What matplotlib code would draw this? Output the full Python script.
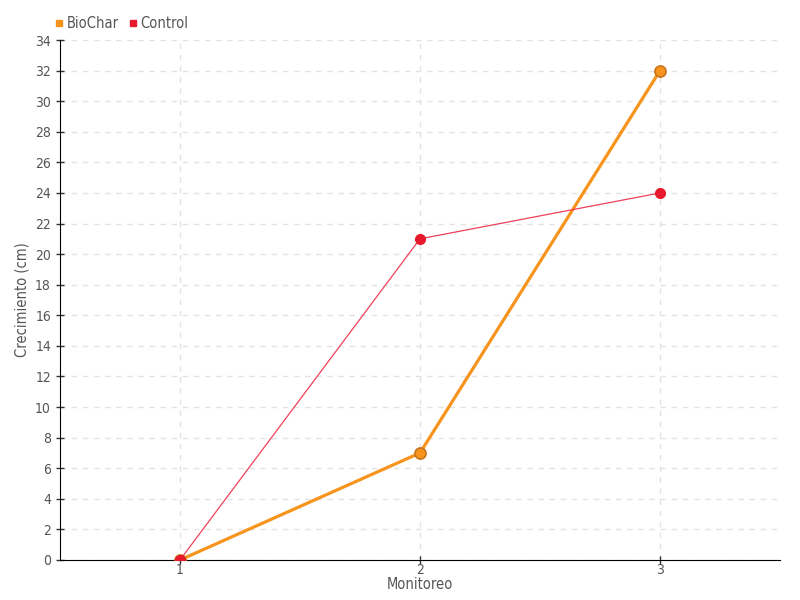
import matplotlib
matplotlib.use("Agg")
import matplotlib.pyplot as plt
from matplotlib.lines import Line2D

monitoreo = [1, 2, 3]
biochar = [0, 7, 32]
control = [0, 21, 24]
yticks = list(range(0, 35, 2))

plt.rcParams['font.family'] = ['DejaVu Sans']
plt.rcParams['font.stretch'] = 'condensed'
txt = '#555555'

fig = plt.figure(figsize=(8, 6), dpi=100)
ax = fig.add_axes([0.075, 0.0667, 0.9, 0.8666])

ax.plot(monitoreo, biochar, color='#f7941d', lw=2.3, marker='o', ms=8,
        markerfacecolor='#f7941d', markeredgecolor='#c8741a', markeredgewidth=1.2, zorder=3)
ax.plot(monitoreo, control, color='#f0405a', lw=0.9, marker='o', ms=7,
        markerfacecolor='#e8192c', markeredgecolor='#e8192c', zorder=4)

ax.set_xlim(0.5, 3.5)
ax.set_ylim(0, 34)
ax.set_xticks(monitoreo)
ax.set_yticks(yticks)
ax.grid(True, color='#e3e3e3', linestyle=(0, (4, 4)), lw=1)
ax.set_axisbelow(True)
for s in ['top', 'right']:
    ax.spines[s].set_visible(False)
ax.tick_params(direction='inout', length=6, width=1, colors='#333333', labelcolor=txt, labelsize=10)
ax.tick_params(axis='x', pad=-1)
ax.set_xlabel('Monitoreo', color=txt, fontsize=10.5, labelpad=0)
ax.set_ylabel('Crecimiento (cm)', color=txt, fontsize=10.5)
ax.yaxis.set_label_coords(-0.042, 0.5)

handles = [Line2D([], [], ls='', marker='s', ms=5, color='#f7941d'),
           Line2D([], [], ls='', marker='s', ms=5, color='#e8192c')]
fig.legend(handles, ['BioChar', 'Control'], loc='upper left', bbox_to_anchor=(0.05, 0.995),
           ncol=2, frameon=False, handletextpad=0.1, columnspacing=0.6, handlelength=0.8,
           labelcolor=txt, fontsize=10.5)

fig.savefig('out.png', dpi=100)
